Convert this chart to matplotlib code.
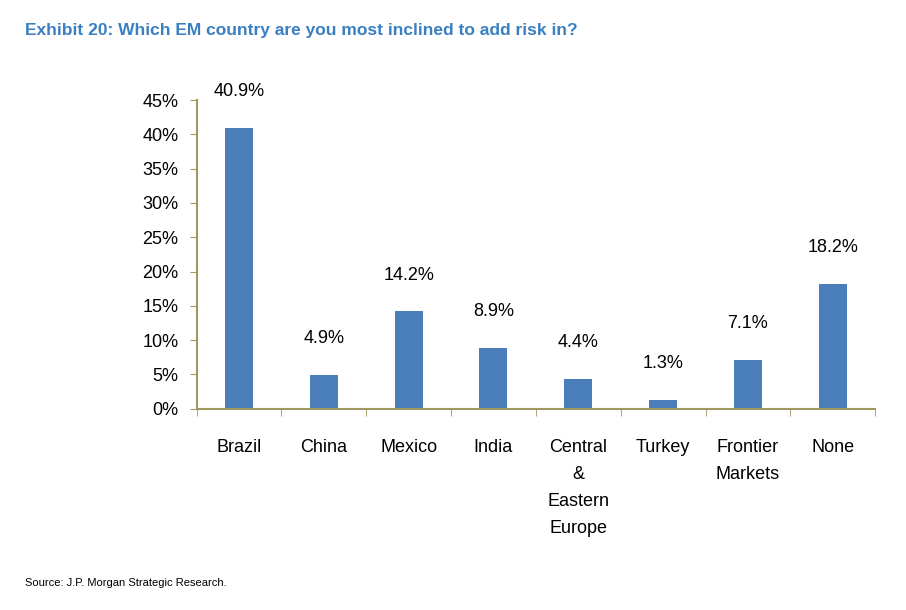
import matplotlib.pyplot as plt
import numpy as np

categories = ["Brazil", "China", "Mexico", "India", "Central\n&\nEastern\nEurope", "Turkey", "Frontier\nMarkets", "None"]
values = [40.9, 4.9, 14.2, 8.9, 4.4, 1.3, 7.1, 18.2]
yticks = [0, 5, 10, 15, 20, 25, 30, 35, 40, 45]

plt.rcParams['font.family'] = ['Liberation Sans', 'DejaVu Sans']
fig = plt.figure(figsize=(9.06, 6.10), dpi=100)
ax = fig.add_axes([0.217, 0.330, 0.749, 0.506])
x = np.arange(len(categories))
ax.bar(x, values, width=0.33, color='#4a7ebb')
for xi, v in zip(x, values):
    ax.annotate(f"{v}%", (xi, v), xytext=(0, 20), textcoords='offset points',
                ha='center', va='bottom', fontsize=13)
ax.set_xlim(-0.5, len(categories) - 0.5)
ax.set_ylim(0, 45)
ax.set_yticks(yticks)
ax.set_yticklabels([f"{t}%" for t in yticks], fontsize=13)
ax.set_xticks(x)
ax.set_xticklabels(categories, fontsize=13, va='top', linespacing=1.75)
ax.set_xticks(np.arange(-0.5, len(categories)), minor=True)
ax.tick_params(axis='x', which='major', length=0, pad=22)
ax.tick_params(axis='x', which='minor', length=5, color='#a0985e', direction='out')
ax.tick_params(axis='y', length=5, color='#a0985e', direction='out', pad=8)
for s in ['top', 'right']:
    ax.spines[s].set_visible(False)
for s in ['left', 'bottom']:
    ax.spines[s].set_color('#a0985e')
    ax.spines[s].set_linewidth(1.5)
fig.text(0.028, 0.95, "Exhibit 20: Which EM country are you most inclined to add risk in?",
         color='#3a7fc1', fontsize=12.5, fontweight='bold', ha='left', va='center')
fig.text(0.028, 0.044, "Source: J.P. Morgan Strategic Research.", fontsize=8, ha='left', va='center')
fig.savefig('out.png', dpi=100)
